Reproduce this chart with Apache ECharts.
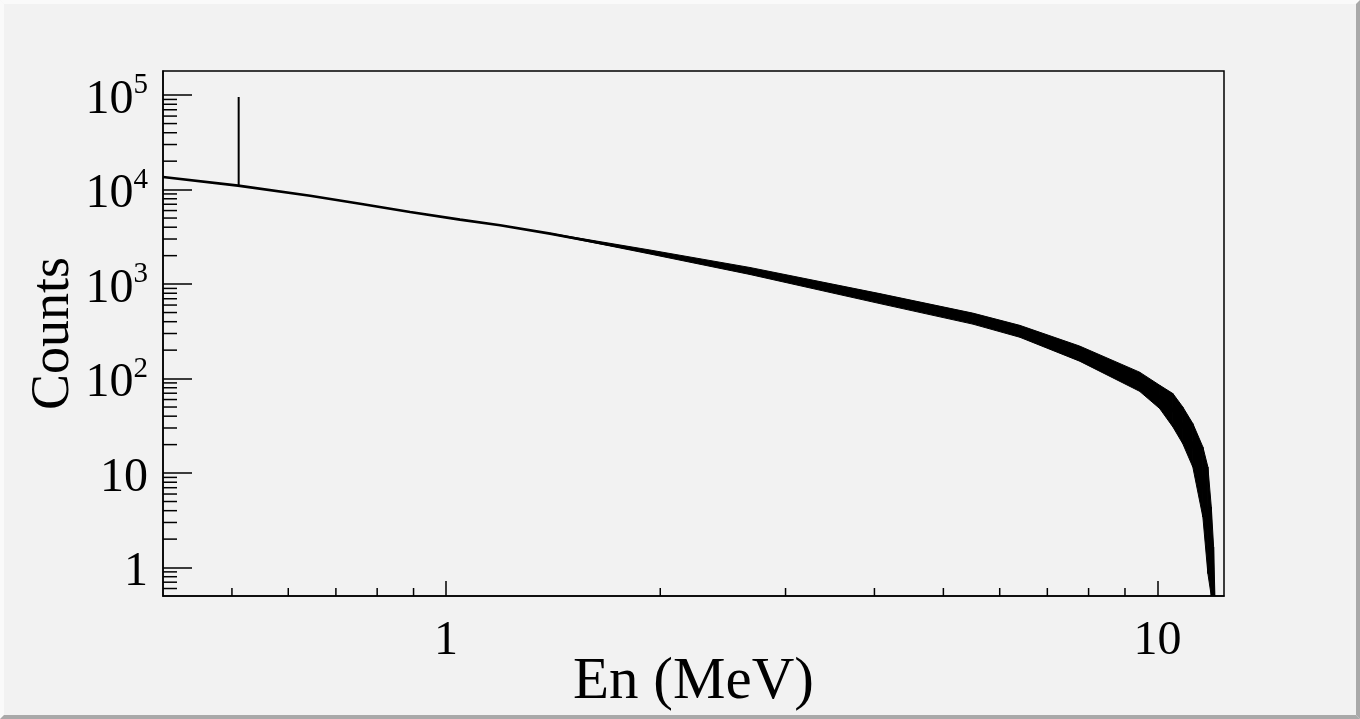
<!DOCTYPE html>
<html><head><meta charset="utf-8">
<script src="https://cdn.jsdelivr.net/npm/echarts@6/dist/echarts.min.js"></script>
<style>html,body{margin:0;padding:0;background:#f2f2f2;}#chart{width:1360px;height:719px;}</style>
</head><body><div id="chart"></div>
<script>
// ---- data ----
const energyMeV = [0.400, 0.510, 0.644, 0.757, 0.890, 1.046, 1.191, 1.400, 1.645, 1.934, 2.274, 2.673, 3.010, 3.496, 4.070, 4.732, 5.499, 6.000, 6.402, 6.829, 7.770, 8.844, 9.435, 10.07, 10.51, 10.85, 11.21, 11.58, 11.77, 11.90, 11.99];
const counts    = [13600, 11020, 8600, 7075, 5795, 4815, 4190, 3423, 2723, 2186, 1755, 1376, 1143, 896, 703, 537, 431, 362, 313, 265, 184, 128, 93.6, 63.9, 46.2, 32.1, 19.7, 8.05, 3.17, 1.46, 0.5];
const peakEnergyMeV = 0.511;
const peakBaseCounts = 11020;
const peakTopCounts = 95500;
// spread of the bin-to-bin fluctuations (upper and lower edge of the dark band)
const bandEnergyMeV  = [1.400, 1.934, 2.673, 4.070, 5.499, 6.402, 7.770, 9.435, 10.07, 10.51, 10.85, 11.21, 11.58, 11.77, 11.90, 11.99, 12.04];
const bandHighCounts = [3450, 2296, 1499, 793, 493, 366, 221, 117, 85, 69.4, 50.1, 33.4, 18.9, 11.6, 4.38, 1.65, 0.5];
const bandLowCounts  = [3400, 2083, 1264, 622, 377, 274, 153, 73.4, 48.2, 30.8, 20.5, 11.6, 3.43, 0.864, 0.5, 0.5, 0.5];
// ticks
const xMajorTicks = [1, 10];
const xTickLabels = ['1', '10'];
const xMinorTicks = [0.5, 0.6, 0.7, 0.8, 0.9, 2, 3, 4, 5, 6, 7, 8, 9];
const yMajorTicks = [1, 10, 100, 1000, 10000, 100000];
const yTickLabels = ['1', '10', '{n|10}{s|2}', '{n|10}{s|3}', '{n|10}{s|4}', '{n|10}{s|5}'];
const yMinorTicks = [0.6, 0.7, 0.8, 0.9, 2, 3, 4, 5, 6, 7, 8, 9, 20, 30, 40, 50, 60, 70, 80, 90,
  200, 300, 400, 500, 600, 700, 800, 900, 2000, 3000, 4000, 5000, 6000, 7000, 8000, 9000,
  20000, 30000, 40000, 50000, 60000, 70000, 80000, 90000];
const X_MIN = 0.4, X_MAX = 12.4, Y_MIN = 0.5, Y_MAX = 1.8e5;

const FONT = 'Liberation Serif';
function pick(v, ticks, labels) {
  for (let i = 0; i < ticks.length; i++) if (Math.abs(v - ticks[i]) < 1e-6 * ticks[i]) return labels[i];
  return '';
}

const chart = echarts.init(document.getElementById('chart'), null, {renderer: 'canvas'});
const option = {
  animation: false,
  backgroundColor: '#f2f2f2',
  grid: {left: 163, top: 71, right: 136, bottom: 123, containLabel: false, outerBoundsMode: 'none',
    show: true, borderColor: '#000', borderWidth: 1.5, backgroundColor: 'transparent'},
  graphic: [
    {type: 'polygon', shape: {points: [[0,0],[1360,0],[1356,4],[4,4]]}, style: {fill: '#fafafa'}, silent: true},
    {type: 'polygon', shape: {points: [[0,0],[4,4],[4,715],[0,719]]}, style: {fill: '#fafafa'}, silent: true},
    {type: 'polygon', shape: {points: [[1360,0],[1360,719],[1356,715],[1356,4]]}, style: {fill: '#a9a9a9'}, silent: true},
    {type: 'polygon', shape: {points: [[0,719],[1360,719],[1356,715],[4,715]]}, style: {fill: '#a9a9a9'}, silent: true}
  ],
  xAxis: {
    type: 'log', logBase: 10, min: X_MIN, max: X_MAX,
    name: 'En (MeV)', nameLocation: 'middle', nameGap: 57, nameMoveOverlap: false,
    nameTextStyle: {fontFamily: FONT, fontSize: 59, color: '#000'},
    axisLine: {show: true, onZero: false, lineStyle: {color: '#000', width: 1.5}},
    axisTick: {show: true, inside: true, length: 15, lineStyle: {color: '#000', width: 1.5}},
    axisLabel: {show: true, margin: 21, fontFamily: FONT, fontSize: 48, color: '#000',
      showMinLabel: false, showMaxLabel: false,
      formatter: v => pick(v, xMajorTicks, xTickLabels)},
    splitLine: {show: false}, minorTick: {show: false}, minorSplitLine: {show: false}
  },
  yAxis: {
    type: 'log', logBase: 10, min: Y_MIN, max: Y_MAX,
    name: 'Counts', nameLocation: 'middle', nameGap: 82, nameMoveOverlap: false,
    nameTextStyle: {fontFamily: FONT, fontSize: 54, color: '#000'},
    axisLine: {show: true, onZero: false, lineStyle: {color: '#000', width: 1.5}},
    axisTick: {show: true, inside: true, length: 29, lineStyle: {color: '#000', width: 1.5}},
    axisLabel: {show: true, margin: 15, fontFamily: FONT, fontSize: 48, color: '#000',
      padding: [10, 0, 0, 0],
      showMinLabel: false, showMaxLabel: false,
      formatter: v => pick(v, yMajorTicks, yTickLabels),
      rich: {
        n: {fontFamily: FONT, fontSize: 48, color: '#000', lineHeight: 58, verticalAlign: 'middle'},
        s: {fontFamily: FONT, fontSize: 29, color: '#000', verticalAlign: 'top', lineHeight: 16}
      }},
    splitLine: {show: false}, minorTick: {show: false}, minorSplitLine: {show: false}
  },
  series: [
    {
      type: 'custom', name: 'xMinor', silent: true,
      data: xMinorTicks.map(v => [v, Y_MIN]),
      renderItem: (params, api) => {
        const p = api.coord([api.value(0), Y_MIN]);
        return {type: 'line', shape: {x1: p[0], y1: p[1], x2: p[0], y2: p[1] - 8}, style: {stroke: '#000', lineWidth: 1.5}};
      }
    },
    {
      type: 'custom', name: 'yMinor', silent: true,
      data: yMinorTicks.map(v => [X_MIN, v]),
      renderItem: (params, api) => {
        const p = api.coord([X_MIN, api.value(1)]);
        return {type: 'line', shape: {x1: p[0], y1: p[1], x2: p[0] + 14, y2: p[1]}, style: {stroke: '#000', lineWidth: 1.5}};
      }
    },
    {
      type: 'custom', name: 'band', silent: true, clip: true,
      data: bandEnergyMeV.map((e, i) => [e, bandHighCounts[i], bandLowCounts[i]]),
      renderItem: (params, api) => {
        const i = params.dataIndex;
        if (i >= bandEnergyMeV.length - 1) return {type: 'group', children: []};
        const a = api.coord([bandEnergyMeV[i], bandHighCounts[i]]);
        const b = api.coord([bandEnergyMeV[i + 1], bandHighCounts[i + 1]]);
        const c = api.coord([bandEnergyMeV[i + 1], bandLowCounts[i + 1]]);
        const d = api.coord([bandEnergyMeV[i], bandLowCounts[i]]);
        return {type: 'polygon', shape: {points: [a, b, c, d]}, style: {fill: '#000', stroke: '#000', lineWidth: 1}};
      }
    },
    {
      type: 'line', name: 'spectrum', showSymbol: false, symbol: 'none', clip: true,
      data: energyMeV.map((e, i) => [e, counts[i]]),
      lineStyle: {color: '#000', width: 2.6}
    },
    {
      type: 'line', name: 'peak', showSymbol: false, symbol: 'none', clip: true,
      data: [[peakEnergyMeV, peakBaseCounts], [peakEnergyMeV, peakTopCounts]],
      lineStyle: {color: '#000', width: 2}
    }
  ]
};
chart.setOption(option);
</script>
</body></html>
